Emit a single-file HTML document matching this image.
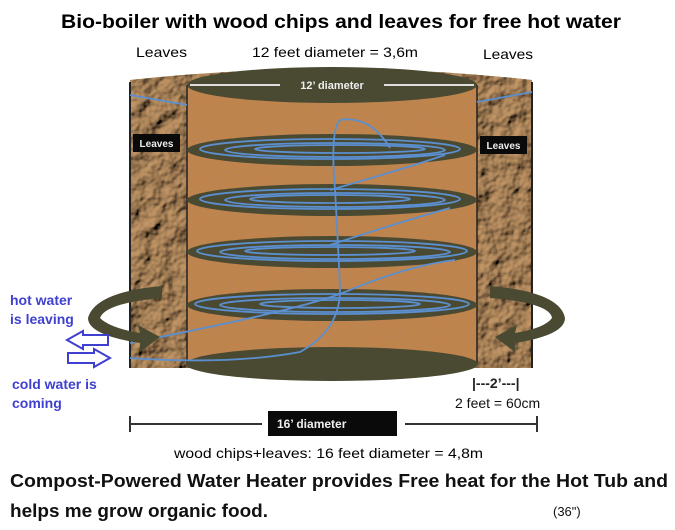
<!DOCTYPE html>
<html><head><meta charset="utf-8"><style>
html,body{margin:0;padding:0;background:#fff;}
svg{display:block;}
</style></head><body>
<svg width="675" height="530" viewBox="0 0 675 530" xmlns="http://www.w3.org/2000/svg" font-family="Liberation Sans, sans-serif">
<defs>
<filter id="leaf" x="0" y="0" width="100%" height="100%">
<feTurbulence type="fractalNoise" baseFrequency="0.06" numOctaves="3" seed="3" result="n"/>
<feDiffuseLighting in="n" surfaceScale="5" lighting-color="#c49868" result="l"><feDistantLight azimuth="225" elevation="40"/></feDiffuseLighting>
<feComposite in="l" in2="SourceGraphic" operator="in"/>
</filter>
<filter id="chip" x="0" y="0" width="100%" height="100%">
<feTurbulence type="fractalNoise" baseFrequency="0.6" numOctaves="2" seed="7" result="n"/>
<feColorMatrix in="n" type="matrix" values="0 0 0 0 0.45  0 0 0 0 0.25  0 0 0 0 0.12  0 0 0 2.2 -1.0" result="c"/>
<feComposite in="c" in2="SourceGraphic" operator="atop"/>
</filter>
</defs>

<text x="341" y="28" text-anchor="middle" font-size="19" font-weight="bold" textLength="560" lengthAdjust="spacingAndGlyphs">Bio-boiler with wood chips and leaves for free hot water</text>
<text x="136" y="57" font-size="14" textLength="51" lengthAdjust="spacingAndGlyphs">Leaves</text>
<text x="252" y="57" font-size="14" textLength="166" lengthAdjust="spacingAndGlyphs">12 feet diameter = 3,6m</text>
<text x="483" y="59" font-size="14" textLength="50" lengthAdjust="spacingAndGlyphs">Leaves</text>

<path d="M130 80 Q331 58 532 80 L532 368 L130 368 Z" fill="#a88054"/>
<path d="M130 80 Q331 58 532 80 L532 368 L130 368 Z" fill="#a88054" filter="url(#leaf)"/>
<line x1="130" y1="82" x2="130" y2="368" stroke="#222" stroke-width="2"/>
<line x1="532" y1="82" x2="532" y2="368" stroke="#222" stroke-width="2"/>
<rect x="187" y="85" width="290" height="280" fill="#c0834a"/>
<rect x="187" y="85" width="290" height="280" fill="#c0834a" filter="url(#chip)"/>
<line x1="187" y1="85" x2="187" y2="365" stroke="#222" stroke-width="1.5"/>
<line x1="477" y1="85" x2="477" y2="365" stroke="#222" stroke-width="1.5"/>
<ellipse cx="332" cy="85" rx="145" ry="18" fill="#4a4a32"/>
<line x1="190" y1="85" x2="280" y2="85" stroke="#ddd" stroke-width="2"/>
<line x1="384" y1="85" x2="474" y2="85" stroke="#ddd" stroke-width="2"/>
<text x="332" y="89" text-anchor="middle" font-size="11" font-weight="bold" fill="#eee">12’ diameter</text>
<ellipse cx="332" cy="364" rx="146" ry="17" fill="#4a4a32"/>
<g fill="#4a4a32">
<ellipse cx="332" cy="150" rx="145" ry="16"/>
<ellipse cx="332" cy="200" rx="145" ry="16"/>
<ellipse cx="332" cy="252" rx="145" ry="16"/>
<ellipse cx="332" cy="305" rx="145" ry="16"/>
</g>
<g fill="none" stroke="#5b8fd0" stroke-width="1.8">
<ellipse cx="330" cy="149" rx="130" ry="10"/><ellipse cx="335" cy="150" rx="110" ry="7"/><ellipse cx="340" cy="149" rx="85" ry="4"/>
<ellipse cx="330" cy="199" rx="130" ry="10"/><ellipse cx="335" cy="200" rx="110" ry="7"/><ellipse cx="330" cy="199" rx="80" ry="4"/>
<ellipse cx="332" cy="251" rx="135" ry="10"/><ellipse cx="335" cy="252" rx="115" ry="7"/><ellipse cx="330" cy="251" rx="85" ry="4"/>
<ellipse cx="332" cy="304" rx="137" ry="10"/><ellipse cx="335" cy="305" rx="115" ry="7"/><ellipse cx="340" cy="304" rx="80" ry="4"/>
<path d="M130 343 Q300 310 345 292 Q410 265 455 260"/>
<path d="M130 358 Q230 365 300 352 Q340 330 340 290 Q338 240 335 190 Q330 130 340 120 Q370 115 390 148"/>
<path d="M330 190 Q400 170 445 155"/>
<path d="M330 245 Q400 222 450 208"/>
<path d="M130 95 L187 105 M477 102 L532 92"/>
</g>
<rect x="133" y="134" width="47" height="18" fill="#0a0a0a"/>
<text x="156.5" y="147" text-anchor="middle" font-size="10" font-weight="bold" fill="#eee">Leaves</text>
<rect x="480" y="136" width="47" height="18" fill="#0a0a0a"/>
<text x="503.5" y="149" text-anchor="middle" font-size="10" font-weight="bold" fill="#eee">Leaves</text>
<g fill="#4a4a32">
<path d="M162 286 L162 298 Q105 303 100 318 Q110 328 140 333 L138 325 L160 337 L140 352 L140 343 Q88 335 88 318 Q95 292 162 286 Z"/>
<path d="M490 286 L490 298 Q550 303 552 318 Q545 328 515 333 L517 325 L495 337 L515 352 L515 343 Q565 335 565 318 Q560 292 490 286 Z"/>
</g>
<g fill="#4040d0" font-weight="bold" font-size="14">
<text x="10" y="305">hot water</text>
<text x="10" y="324">is leaving</text>
<text x="12" y="389">cold water is</text>
<text x="12" y="408">coming</text>
</g>
<g fill="none" stroke="#4040d0" stroke-width="2">
<path d="M108 335 L83 335 L83 331 L67 340 L83 349 L83 345 L108 345 Z"/>
<path d="M68 353 L94 353 L94 349 L110 358 L94 367 L94 363 L68 363 Z"/>
</g>
<text x="472" y="388" font-size="14" font-weight="bold" fill="#222">|---2’---|</text>
<text x="455" y="408" font-size="14" fill="#111">2 feet = 60cm</text>
<line x1="130" y1="424" x2="262" y2="424" stroke="#333" stroke-width="2"/>
<line x1="405" y1="424" x2="537" y2="424" stroke="#333" stroke-width="2"/>
<line x1="130" y1="416" x2="130" y2="432" stroke="#333" stroke-width="2"/>
<line x1="537" y1="416" x2="537" y2="432" stroke="#333" stroke-width="2"/>
<rect x="268" y="411" width="129" height="25" fill="#0a0a0a"/>
<text x="277" y="428" font-size="12" font-weight="bold" fill="#eee">16’ diameter</text>
<text x="174" y="458" font-size="14" textLength="309" lengthAdjust="spacingAndGlyphs">wood chips+leaves: 16 feet diameter = 4,8m</text>
<g font-size="18" font-weight="bold" fill="#111">
<text x="10" y="487" textLength="658" lengthAdjust="spacingAndGlyphs">Compost-Powered Water Heater provides Free heat for the Hot Tub and</text>
<text x="10" y="517" textLength="258" lengthAdjust="spacingAndGlyphs">helps me grow organic food.</text>
</g>
<text x="553" y="516" font-size="13" fill="#111">(36")</text>
</svg>
</body></html>
